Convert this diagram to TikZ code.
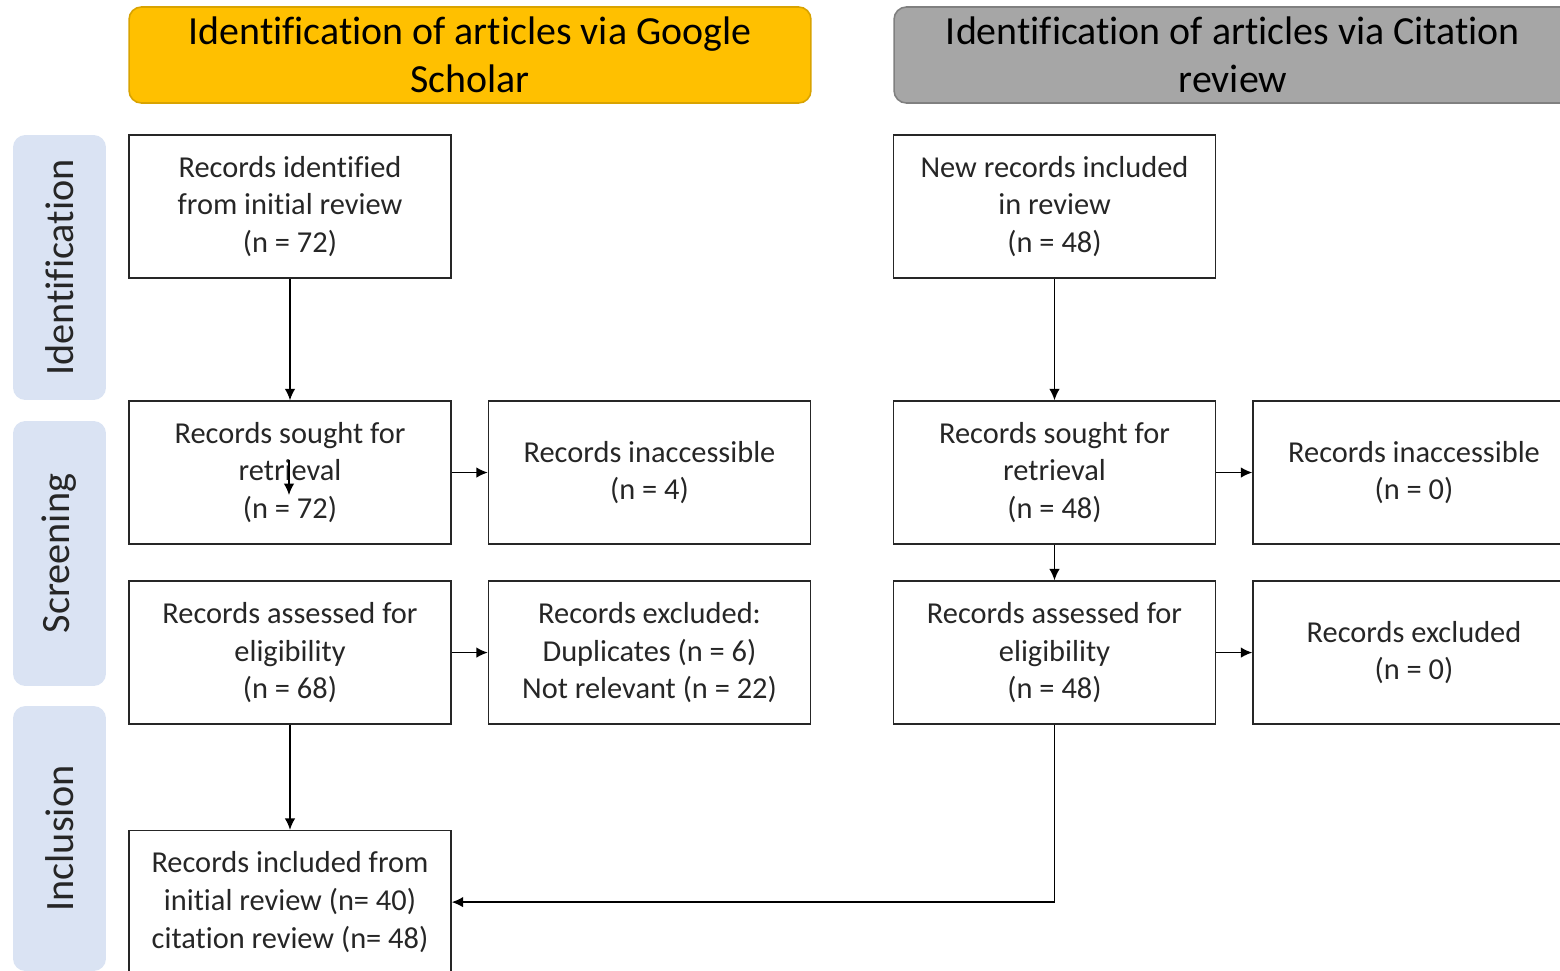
\documentclass[tikz,border=0pt]{standalone}
\usepackage{fontspec}
\setmainfont{Carlito}[Ligatures=NoCommon]
\usetikzlibrary{positioning, arrows.meta, calc}
\definecolor{gsgold}{HTML}{FFC000}
\definecolor{gsgoldline}{HTML}{D9A300}
\definecolor{crgray}{HTML}{A6A6A6}
\definecolor{crgrayline}{HTML}{808080}
\definecolor{phaseblue}{HTML}{DAE3F3}

\begin{document}
\begin{tikzpicture}[
  x=0.02cm, y=0.02cm,
  font=\fontsize{17.3}{21.5}\selectfont,
  box/.style={draw=black!85, line width=0.9pt, minimum width=6.44cm, minimum height=2.86cm, align=center, inner sep=0pt, text=black!85},
  header/.style={draw, rounded corners=7pt, line width=0.9pt, minimum height=1.92cm, align=center, font=\fontsize{22.7}{27.2}\selectfont},
  phase/.style={fill=phaseblue, rounded corners=7pt, minimum width=5.3cm, minimum height=1.86cm, rotate=90, text=black!85, font=\fontsize{22.9}{27}\selectfont},
  >={Latex[length=6.5pt, width=6pt]}
]
\useasboundingbox (0,0) rectangle (1560,-971);
\clip (0,0) rectangle (1560,-971);
% column headers
\node[header, fill=gsgold, draw=gsgoldline, minimum width=13.64cm] (gs) at (470,-55) {Identification of articles via Google\\Scholar};
\node[header, fill=crgray, draw=crgrayline, minimum width=13.56cm] (cr) at (1233,-55) {Identification of articles via Citation\\review};
% phase labels down the left side
\node[phase] (idphase) at (59.5,-267.5) {Identification};
\node[phase] (scphase) at (59.5,-553.5) {Screening};
\node[phase] (inphase) at (59.5,-838.5) {Inclusion};
% Google Scholar column
\node[box] (ident) at (290,-206.5) {Records identified\\from initial review\\(n = 72)};
\node[box, below=2.43cm of ident] (sought) {Records sought for\\retrieval\\(n = 72)};
\node[box, right=0.72cm of sought] (inacc) {Records inaccessible\\(n = 4)};
\node[box, below=0.71cm of sought] (assess) {Records assessed for\\eligibility\\(n = 68)};
\node[box, right=0.72cm of assess] (excl) {Records excluded:\\Duplicates (n = 6)\\Not relevant (n = 22)};
\node[box, below=2.10cm of assess] (incl) {Records included from\\initial review (n= 40)\\citation review (n= 48)};
% Citation review column
\node[box] (newrec) at (1054.5,-206.5) {New records included\\in review\\(n = 48)};
\node[box, below=2.43cm of newrec] (csought) {Records sought for\\retrieval\\(n = 48)};
\node[box, right=0.72cm of csought] (cinacc) {Records inaccessible\\(n = 0)};
\node[box, below=0.71cm of csought] (cassess) {Records assessed for\\eligibility\\(n = 48)};
\node[box, right=0.72cm of cassess] (cexcl) {Records excluded\\(n = 0)};
% connectors
\draw[->, line width=0.8pt] (ident) -- (sought);
\draw[->, line width=0.8pt] (sought) -- (inacc);
\draw[->, line width=0.8pt] (assess) -- (excl);
\draw[->, line width=0.8pt] (assess) -- (incl);
\coordinate (stray1) at (289,-460);
\coordinate (stray2) at (289,-495);
\draw[->, line width=0.8pt] (stray1) -- (stray2);
\draw[->, line width=0.8pt] (newrec) -- (csought);
\draw[->, line width=0.8pt] (csought) -- (cinacc);
\draw[->, line width=0.8pt] (csought) -- (cassess);
\draw[->, line width=0.8pt] (cassess) -- (cexcl);
\draw[->, line width=0.8pt] (cassess.south) |- (incl.east);
\end{tikzpicture}
\end{document}
